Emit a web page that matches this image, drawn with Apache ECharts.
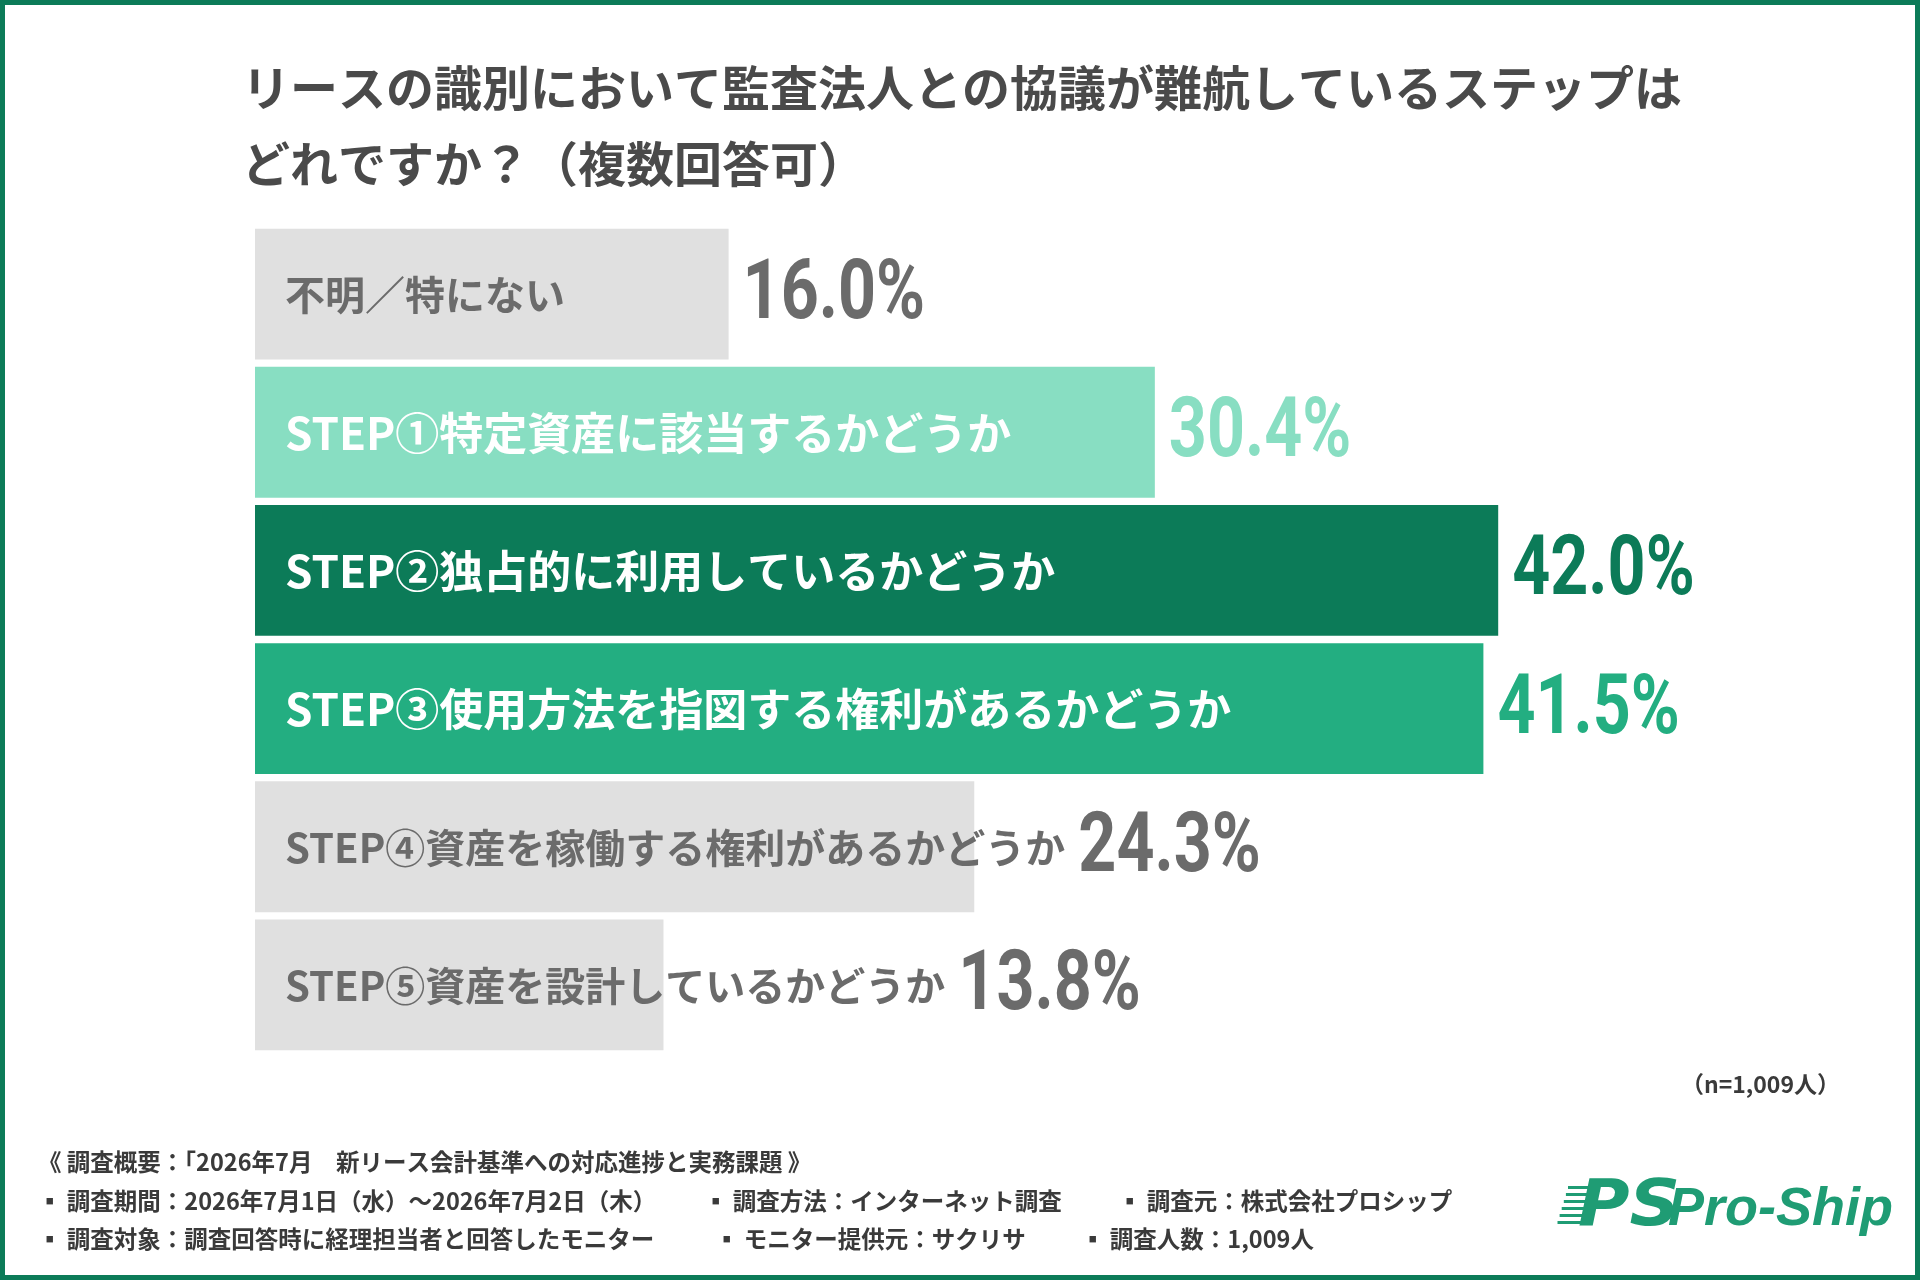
<!DOCTYPE html>
<html>
<head>
<meta charset="utf-8">
<script src="https://cdn.jsdelivr.net/npm/echarts@6/dist/echarts.min.js"></script>
<style>
  html, body { margin: 0; padding: 0; background: #fff; }
  #chart { width: 1920px; height: 1280px; }
</style>
</head>
<body>
<div id="chart"></div>
<script>
// Data (top to bottom)
const categories = [
    '不明／特にない',
    'STEP①特定資産に該当するかどうか',
    'STEP②独占的に利用しているかどうか',
    'STEP③使用方法を指図する権利があるかどうか',
    'STEP④資産を稼働する権利があるかどうか',
    'STEP⑤資産を設計しているかどうか'
];
const values = [16.0, 30.4, 42.0, 41.5, 24.3, 13.8];
const titleLines = [
    'リースの識別において監査法人との協議が難航しているステップは',
    'どれですか？（複数回答可）'
];
const sampleNote = '（n=1,009人）';
const footerHead = '《 調査概要：「2026年7月　新リース会計基準への対応進捗と実務課題 》';
const footerRow1 = ['▪ 調査期間：2026年7月1日（水）～2026年7月2日（木）', '▪ 調査方法：インターネット調査', '▪ 調査元：株式会社プロシップ'];
const footerRow2 = ['▪ 調査対象：調査回答時に経理担当者と回答したモニター', '▪ モニター提供元：サクリサ', '▪ 調査人数：1,009人'];

// Styles per row
const barColors = ['#e0e0e0', '#88dec2', '#0c7b58', '#23ae81', '#e0e0e0', '#e0e0e0'];
const nameColors = ['#6b6b6b', '#ffffff', '#ffffff', '#ffffff', '#6b6b6b', '#6b6b6b'];
const valueColors = ['#6b6b6b', '#88dec2', '#0c7b58', '#23ae81', '#6b6b6b', '#6b6b6b'];

const CJK = '"Noto Sans CJK JP", "Noto Sans CJK SC", sans-serif';
const measureCtx = document.createElement('canvas').getContext('2d');
function textWidth(str, font) {
    measureCtx.font = font;
    return measureCtx.measureText(str).width;
}
function nameFont(i) {
    return nameColors[i] === '#ffffff' ? 'bold 44px ' + CJK : 'bold 40px ' + CJK;
}
const valueFont = 'bold 84px Roboto, "Noto Sans", sans-serif';

const chart = echarts.init(document.getElementById('chart'));

function renderItem(params, api) {
    const i = api.value(1);
    const v = api.value(0);
    const start = api.coord([0, i]);
    const end = api.coord([v, i]);
    const band = api.size([0, 1])[1];
    const h = band * 0.947;
    const nameX = start[0] + 30;
    const nameEnd = nameX + textWidth(categories[i], nameFont(i));
    const valX = Math.max(end[0] + 14, nameEnd + 13);
    return {
        type: 'group',
        children: [
            {
                type: 'rect',
                shape: { x: start[0], y: start[1] - h / 2, width: end[0] - start[0], height: h },
                style: { fill: barColors[i] }
            },
            {
                type: 'text',
                x: nameX,
                y: start[1] + 1,
                style: {
                    text: categories[i],
                    font: nameFont(i),
                    fill: nameColors[i],
                    textAlign: 'left',
                    textVerticalAlign: 'middle'
                }
            },
            {
                type: 'text',
                x: valX,
                y: start[1] + 3,
                scaleX: 0.79,
                style: {
                    text: v.toFixed(1) + '%',
                    font: valueFont,
                    fill: valueColors[i],
                    textAlign: 'left',
                    textVerticalAlign: 'middle'
                }
            }
        ]
    };
}

const footStyle = { font: 'bold 23.5px ' + CJK, fill: '#3a3a3a', textVerticalAlign: 'middle' };
const footCols = [38, 704, 1118];
const footCols2 = [38, 715, 1081];

const option = {
    backgroundColor: '#ffffff',
    animation: false,
    grid: { left: 255, right: 185, top: 225, height: 829 },
    xAxis: { type: 'value', min: 0, max: 50, show: false },
    yAxis: { type: 'category', data: categories, inverse: true, show: false },
    series: [{
        type: 'custom',
        renderItem: renderItem,
        encode: { x: 0, y: 1 },
        data: values.map((v, i) => [v, i])
    }],
    graphic: [
        // frame
        {
            type: 'rect', left: 0, top: 0, z: 10, silent: true,
            shape: { x: 2.5, y: 2.5, width: 1915, height: 1275 },
            style: { fill: 'none', stroke: '#0c7b58', lineWidth: 5 }
        },
        // title
        {
            type: 'text', x: 242, y: 88,
            style: { text: titleLines[0], font: 'bold 48px ' + CJK, fill: '#4a4a4a', textVerticalAlign: 'middle' }
        },
        {
            type: 'text', x: 242, y: 164,
            style: { text: titleLines[1], font: 'bold 48px ' + CJK, fill: '#4a4a4a', textVerticalAlign: 'middle' }
        },
        // sample size
        {
            type: 'text', x: 1840, y: 1084,
            style: { text: sampleNote, font: 'bold 23px ' + CJK, fill: '#3a3a3a', textAlign: 'right', textVerticalAlign: 'middle' }
        },
        // footer
        { type: 'text', x: 38, y: 1162, style: Object.assign({ text: footerHead }, footStyle) },
        ...footerRow1.map((t, k) => ({ type: 'text', x: footCols[k], y: 1201, style: Object.assign({ text: t }, footStyle) })),
        ...footerRow2.map((t, k) => ({ type: 'text', x: footCols2[k], y: 1239, style: Object.assign({ text: t }, footStyle) })),
        // logo
        {
            type: 'group', x: 1558, y: 1208,
            children: [
                ...[0, 7, 14, 21, 28, 35].map(dy => ({
                    type: 'rect', shape: { x: 10 - dy * 0.3, y: -22 + dy, width: 24, height: 3 },
                    style: { fill: '#1f9c74' }
                })),
                {
                    type: 'text', x: 20, y: 0, scaleX: 1.1,
                    style: { text: 'PS', font: 'italic 900 64px "DejaVu Sans", sans-serif', fill: '#1f9c74', textVerticalAlign: 'middle' }
                },
                {
                    type: 'text', x: 110, y: 2,
                    style: { text: 'Pro-Ship', font: 'italic bold 54px "Liberation Sans", sans-serif', fill: '#1f9c74', textVerticalAlign: 'middle' }
                }
            ]
        }
    ]
};

chart.setOption(option);
</script>
</body>
</html>
